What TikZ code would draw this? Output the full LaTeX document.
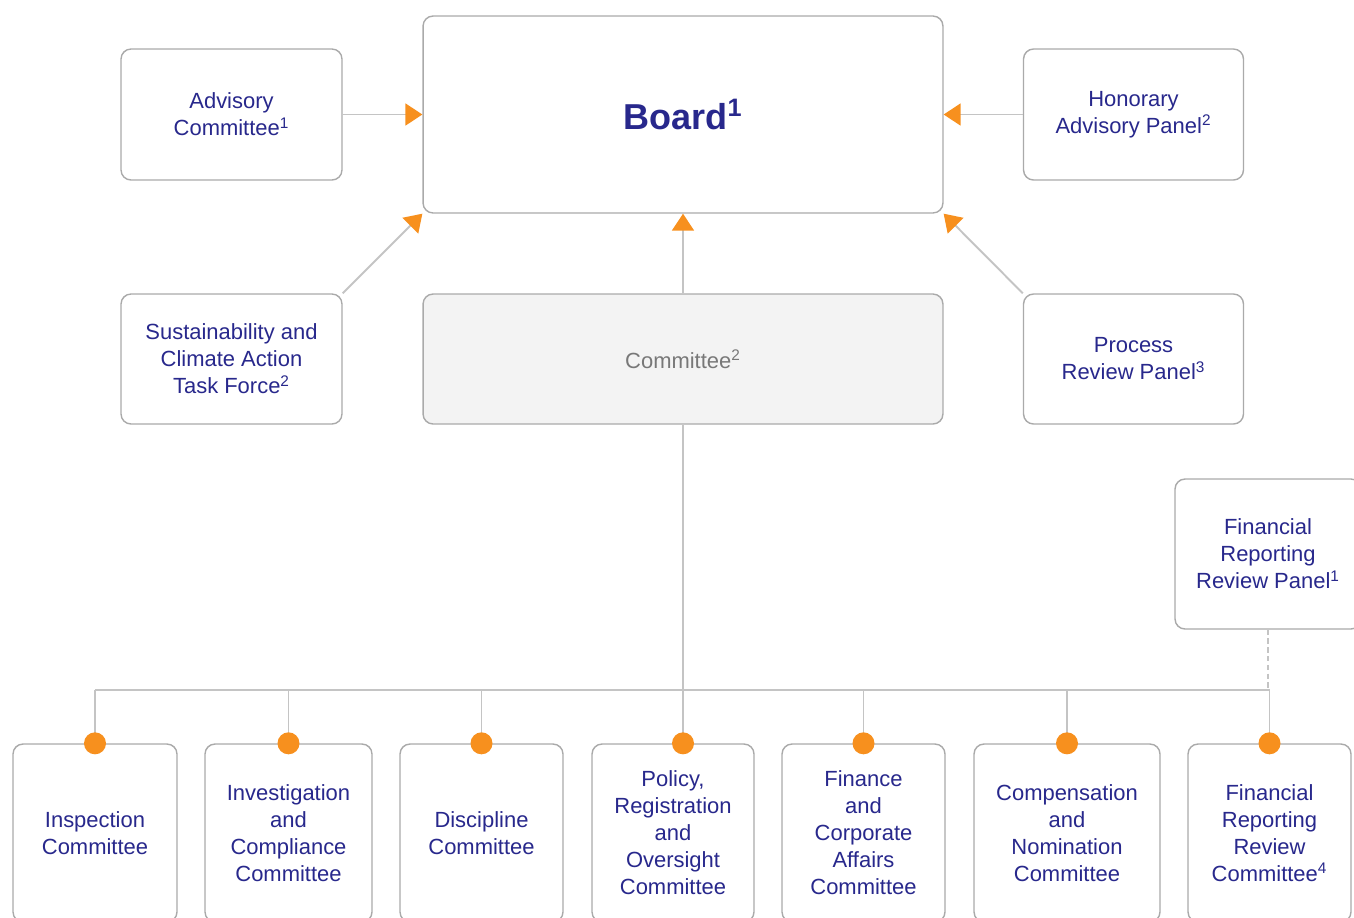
\documentclass[tikz,border=0pt]{standalone}
\usepackage{fontspec}
\setmainfont{Liberation Sans}
\usetikzlibrary{arrows.meta}

\definecolor{navy}{RGB}{40,40,140}
\definecolor{boxline}{RGB}{170,170,170}
\definecolor{wire}{RGB}{196,196,196}
\definecolor{tip}{RGB}{247,144,30}
\definecolor{pale}{RGB}{243,243,243}
\definecolor{greytext}{RGB}{120,120,120}

\begin{document}
\begin{tikzpicture}[x=0.02cm, y=-0.02cm,
  box/.style={draw=boxline, line width=0.8pt, rounded corners=0.2cm, fill=white,
    text=navy, align=center, inner sep=0pt, font=\fontsize{12.5}{15.4}\selectfont},
  link/.style={draw=wire, line width=1.1pt},
  arr/.style={link, -{Triangle[length=0.34cm, width=0.44cm, color=tip]}},
  dot/.style={fill=tip}]

\useasboundingbox (0,0) rectangle (1354,917);
\clip (0,0) rectangle (1354,917);

% top level
\node[box, minimum width=10.4cm, minimum height=3.94cm] (board) at (683,114.5)
  {\fontsize{20.5}{24}\selectfont\bfseries Board\textsuperscript{1}};
\node[box, minimum width=4.42cm, minimum height=2.62cm] (adv) at (231.5,114.5)
  {Advisory\\Committee\textsuperscript{1}};
\node[box, minimum width=4.4cm, minimum height=2.62cm] (hon) at (1133.5,114.5)
  {Honorary\\Advisory Panel\textsuperscript{2}};

% second row
\node[box, minimum width=4.42cm, minimum height=2.6cm] (sus) at (231.5,359)
  {Sustainability and\\Climate Action\\Task Force\textsuperscript{2}};
\node[box, fill=pale, text=greytext, minimum width=10.4cm, minimum height=2.6cm] (com) at (683,359)
  {Committee\textsuperscript{2}};
\node[box, minimum width=4.4cm, minimum height=2.6cm] (proc) at (1133.5,359)
  {Process\\Review Panel\textsuperscript{3}};

\node[box, minimum width=3.72cm, minimum height=3cm] (frrp) at (1268,554)
  {Financial\\Reporting\\Review Panel\textsuperscript{1}};

% committees along the bottom
\node[box, minimum width=3.28cm, minimum height=3.56cm] (insp) at (95,833)
  {Inspection\\Committee};
\node[box, minimum width=3.34cm, minimum height=3.56cm] (inv) at (288.5,833)
  {Investigation\\and\\Compliance\\Committee};
\node[box, minimum width=3.26cm, minimum height=3.56cm] (dis) at (481.5,833)
  {Discipline\\Committee};
\node[box, minimum width=3.24cm, minimum height=3.56cm] (pol) at (673,833)
  {Policy,\\Registration\\and\\Oversight\\Committee};
\node[box, minimum width=3.26cm, minimum height=3.56cm] (fin) at (863.5,833)
  {Finance\\and\\Corporate\\Affairs\\Committee};
\node[box, minimum width=3.72cm, minimum height=3.56cm] (cmp) at (1067,833)
  {Compensation\\and\\Nomination\\Committee};
\node[box, minimum width=3.26cm, minimum height=3.56cm] (frrc) at (1269.5,833)
  {Financial\\Reporting\\Review\\Committee\textsuperscript{4}};

% reporting lines up to the board
\draw[arr] (adv.east) -- (board.west);
\draw[arr] (hon.west) -- (board.east);
\draw[arr] (com.north) -- (board.south);
\draw[arr] (sus.north east) -- (board.south west);
\draw[arr] (proc.north west) -- (board.south east);

% bus below the committee
\coordinate (bus) at (683,690);
\coordinate (drop) at (com.south |- pol.north);
\draw[link] (com.south) -- (drop);
\draw[link] (insp.north |- bus) -- (frrc.north |- bus);
\draw[link, densely dashed] (frrp.south) -- (frrp.south |- bus);
\foreach \n in {insp,inv,dis,fin,cmp,frrc}{
  \draw[link] (\n.north |- bus) -- (\n.north);
  \fill[dot] (\n.north) circle (0.22cm);
}
\fill[dot] (drop) circle (0.22cm);
\end{tikzpicture}
\end{document}
